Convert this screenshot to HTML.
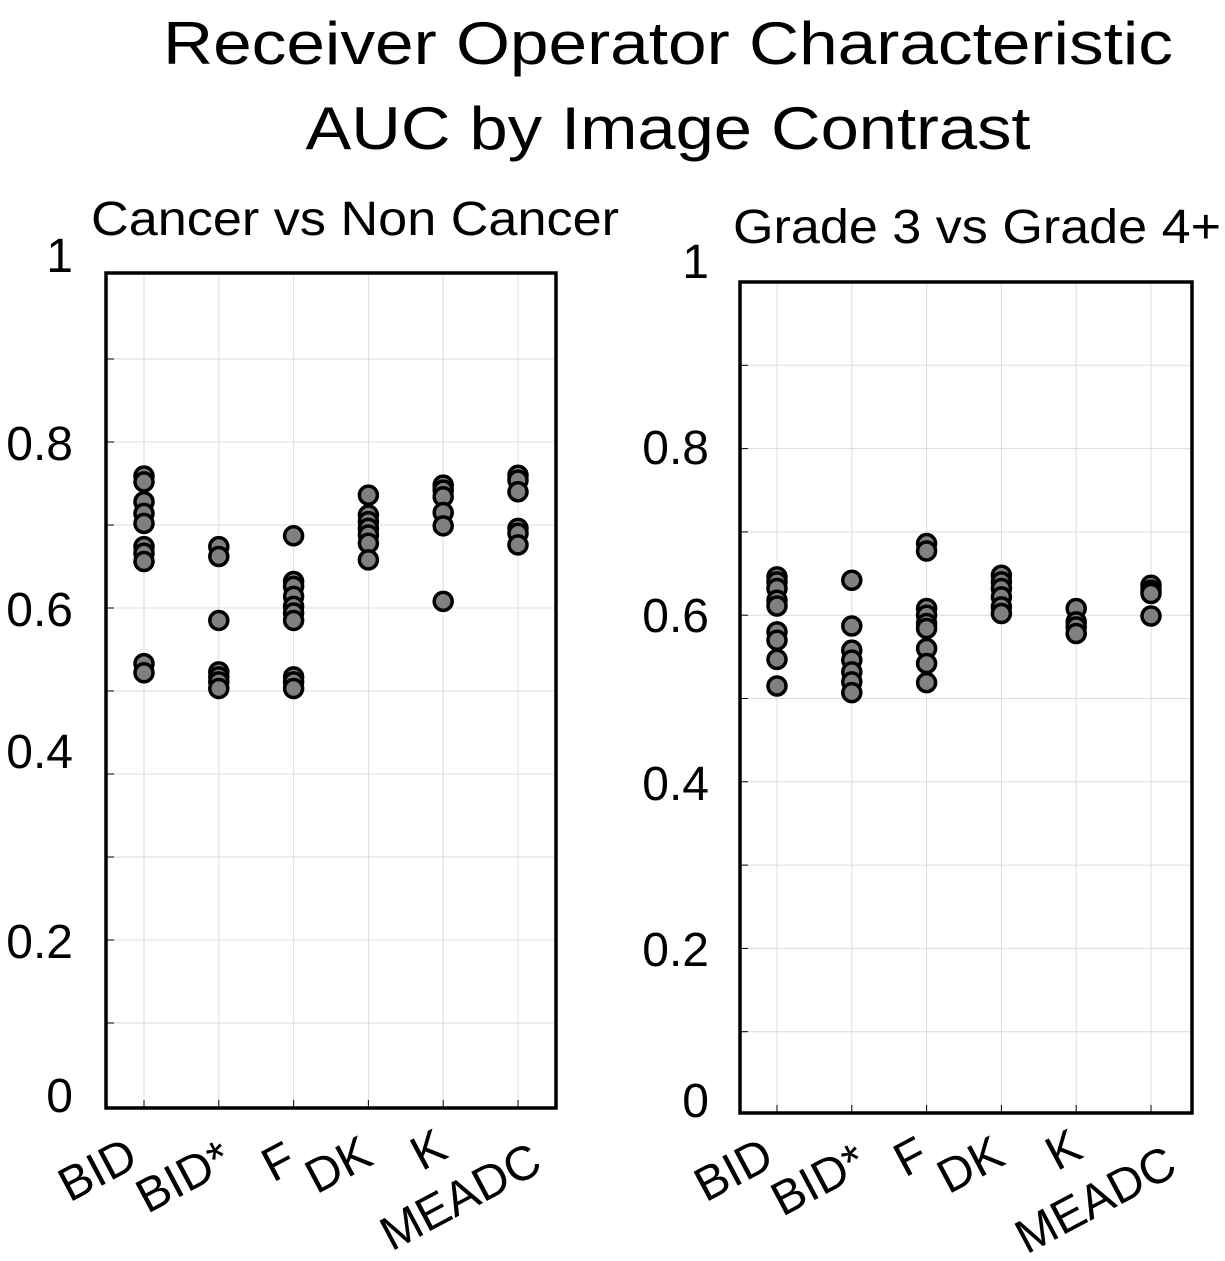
<!DOCTYPE html>
<html><head><meta charset="utf-8"><style>
html,body{margin:0;padding:0;background:#fff;}
svg{display:block;font-family:"Liberation Sans",sans-serif;}
</style></head><body>
<svg id="chart" width="1225" height="1261" viewBox="0 0 1225 1261">
<text x="668" y="64" font-size="60" text-anchor="middle" textLength="1010" lengthAdjust="spacingAndGlyphs">Receiver Operator Characteristic</text>
<text x="668" y="149" font-size="60" text-anchor="middle" textLength="725" lengthAdjust="spacingAndGlyphs">AUC by Image Contrast</text>
<text x="355" y="235" font-size="48" text-anchor="middle" textLength="528" lengthAdjust="spacingAndGlyphs">Cancer vs Non Cancer</text>
<text x="977" y="243" font-size="48" text-anchor="middle" textLength="488" lengthAdjust="spacingAndGlyphs">Grade 3 vs Grade 4+</text>
<g id="panels"></g>
</svg>
<script>
const categories = ["BID","BID*","F","DK","K","MEADC"];
const yTicks = [0,0.2,0.4,0.6,0.8,1];
const yTickLabels = ["0","0.2","0.4","0.6","0.8","1"];
const leftBID = [0.759,0.752,0.728,0.714,0.702,0.674,0.666,0.656,0.533,0.522];
const leftBIDs = [0.674,0.662,0.585,0.523,0.517,0.511,0.503];
const leftF = [0.687,0.632,0.626,0.614,0.602,0.594,0.585,0.517,0.511,0.503];
const leftDK = [0.736,0.712,0.704,0.696,0.688,0.678,0.658];
const leftK = [0.748,0.742,0.734,0.715,0.699,0.608];
const leftMEADC = [0.760,0.754,0.740,0.696,0.690,0.676];
const rightBID = [0.646,0.640,0.632,0.618,0.611,0.580,0.570,0.547,0.515];
const rightBIDs = [0.642,0.587,0.558,0.546,0.532,0.520,0.507];
const rightF = [0.686,0.677,0.608,0.600,0.590,0.584,0.560,0.542,0.519];
const rightDK = [0.648,0.640,0.632,0.622,0.610,0.602];
const rightK = [0.608,0.592,0.586,0.578];
const rightMEADC = [0.636,0.630,0.626,0.599];

const NS="http://www.w3.org/2000/svg";
const root=document.getElementById('panels');
function mk(tag,attrs,parent){const e=document.createElementNS(NS,tag);for(const k in attrs)e.setAttribute(k,attrs[k]);(parent||root).appendChild(e);return e;}

const panels=[
 {name:"left",x0:106,x1:556,top:273,bottom:1108,y0px:1106,y1px:276,cx0:144,cdx:74.8,
  series:[leftBID,leftBIDs,leftF,leftDK,leftK,leftMEADC],
  labelX:73,labelY:[1112,958,768,626,460,272],
  catLab:[[97,1186],[183,1193],[278,1178],[338,1181],[428,1166],[460,1213]]},
 {name:"right",x0:740,x1:1192,top:282,bottom:1113,y0px:1115,y1px:282,cx0:777,cdx:74.8,
  series:[rightBID,rightBIDs,rightF,rightDK,rightK,rightMEADC],
  labelX:709,labelY:[1117,966,800,632,464,278],
  catLab:[[733,1186],[818,1196],[910,1173],[970,1181],[1063,1166],[1095,1216]]}
];
panels.forEach(p=>{
 const g=mk('g',{});
 
 
 const ys=v=>p.y0px+(p.y1px-p.y0px)*v;
 const xs=i=>p.cx0+p.cdx*i;
 for(let k=1;k<10;k++){
  const v=k/10;
  const l=mk('line',{x1:p.x0,x2:p.x1,y1:ys(v),y2:ys(v),stroke:"#dcdcdc","stroke-width":1},g);
  
  
  const t=mk('line',{x1:p.x0,x2:p.x0+8,y1:ys(v),y2:ys(v),stroke:"#000","stroke-width":1},g);
  
  
 }
 categories.forEach((c,i)=>{
  const l=mk('line',{x1:xs(i),x2:xs(i),y1:p.top,y2:p.bottom,stroke:"#dcdcdc","stroke-width":1},g);
  
  
  const t=mk('line',{x1:xs(i),x2:xs(i),y1:p.bottom-8,y2:p.bottom,stroke:"#000","stroke-width":1},g);
  
  
 });
 const box=mk('rect',{x:p.x0,y:p.top,width:p.x1-p.x0,height:p.bottom-p.top,fill:"none",stroke:"#000","stroke-width":3.5},g);
 
 
 yTickLabels.forEach((s,i)=>{
  const t=mk('text',{x:p.labelX,y:p.labelY[i],"font-size":48,"text-anchor":"end"},g);
  t.textContent=s;
  
  
 });
 categories.forEach((c,i)=>{
  const [lx,ly]=p.catLab[i];
  const t=mk('text',{x:lx,y:ly,"font-size":48,"text-anchor":"middle",transform:`rotate(-28 ${lx} ${ly-17})`},g);
  t.textContent=c;
  
  
 });
 p.series.forEach((vals,i)=>{
  vals.forEach(v=>{
   const d=mk('circle',{cx:xs(i),cy:ys(v),r:9,fill:"#808080",stroke:"#000","stroke-width":3.5},g);
   
   
  });
 });
});
</script>
</body></html>
